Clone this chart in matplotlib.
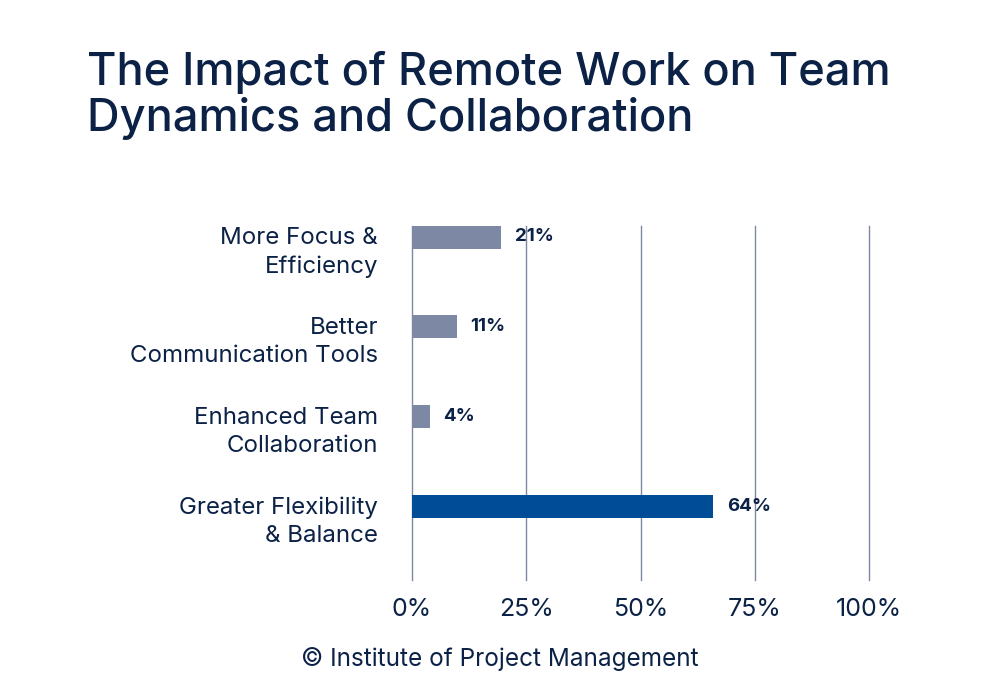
import matplotlib.pyplot as plt
from matplotlib.transforms import blended_transform_factory, offset_copy

categories = ['More Focus &\nEfficiency', 'Better\nCommunication Tools',
              'Enhanced Team\nCollaboration', 'Greater Flexibility\n& Balance']
values = [19.5, 9.8, 3.9, 65.9]
value_labels = ['21%', '11%', '4%', '64%']
colors = ['#7d88a5', '#7d88a5', '#7d88a5', '#004c97']
ticks = [0, 25, 50, 75, 100]
tick_labels = ['0%', '25%', '50%', '75%', '100%']

navy = '#0b2246'
plt.rcParams['font.family'] = ['Inter', 'DejaVu Sans']

fig = plt.figure(figsize=(10, 7), dpi=100)
ax = fig.add_axes([0.412, 0.171, 0.457, 0.506])

ypos = list(range(len(categories)))
ax.barh(ypos, values, height=0.26, color=colors, zorder=3)
ax.set_xlim(0, 100)
ax.set_ylim(3.82, -0.12)

for x in ticks:
    ax.axvline(x, color='#7d88a5', lw=1, zorder=1, clip_on=False)

for y, v, lab in zip(ypos, values, value_labels):
    ax.text(v + 3, y, lab, va='center', ha='left', fontsize=13.5,
            fontweight='bold', color=navy, zorder=4)

trans = offset_copy(blended_transform_factory(ax.transAxes, ax.transData),
                    fig=fig, x=-34, y=0, units='dots')
for y, cat in zip(ypos, categories):
    ax.text(0, y - 0.11, cat, transform=trans, ha='right', va='top',
            fontsize=17.3, color=navy, linespacing=1.35)

ax.set_xticks(ticks)
ax.set_xticklabels(tick_labels, fontsize=18, color=navy)
ax.tick_params(axis='x', length=0, pad=13)
ax.set_yticks([])
for s in ax.spines.values():
    s.set_visible(False)

fig.text(0.087, 0.80, 'The Impact of Remote Work on Team\nDynamics and Collaboration',
         fontsize=32.5, fontweight='medium', color=navy, ha='left', va='bottom',
         linespacing=1.1)
fig.text(0.5, 0.058, '© Institute of Project Management', fontsize=17.5,
         color=navy, ha='center', va='center')

fig.savefig('out.png', dpi=100)
